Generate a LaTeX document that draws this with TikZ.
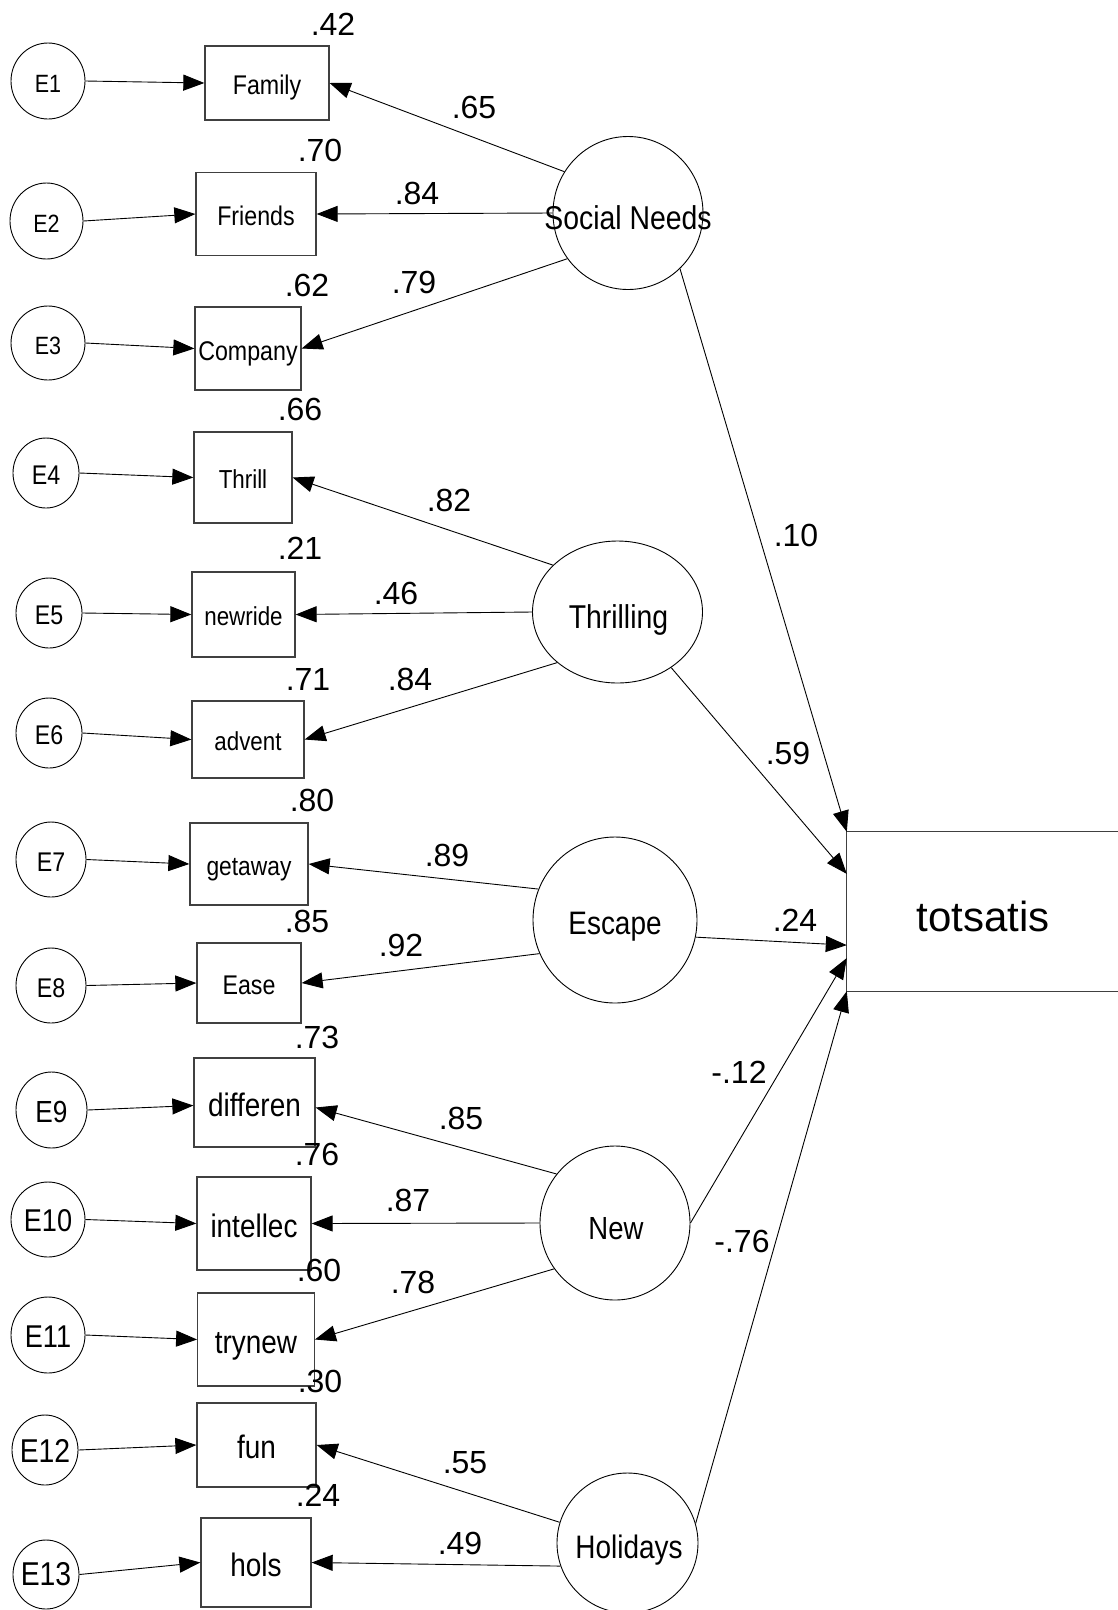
\documentclass[tikz,border=0pt]{standalone}
\usepackage{fontspec}
\setmainfont{Liberation Sans}
\newfontfamily\condf[FakeStretch=0.86]{Liberation Sans}
\usetikzlibrary{arrows.meta,shapes.geometric,calc}
\newcommand\fsz[1]{\fontsize{#1pt}{#1pt}\selectfont}
\tikzset{
  lab/.style={font={\fsz{#1}}, text height={0.716*#1pt}, text depth=0pt, inner sep=0pt},
  clab/.style={font={\condf\fsz{#1}}, text height={0.716*#1pt}, text depth=0pt, inner sep=0pt},
  blab/.style={font={\condf\fsz{#1}}, text height={0.716*#1pt+4pt}, text depth=0pt, inner sep=0pt},
  obs/.style={draw=black!75, line width=1.3pt, rectangle, inner sep=0pt},
  lat/.style={draw=black, line width=0.9pt, ellipse, inner sep=0pt},
  conn/.style={draw=black, line width=0.9pt, -{Triangle[length=21pt,width=16pt]}},
}
\begin{document}
\begin{tikzpicture}[x=1pt,y=-1pt]
\path[use as bounding box, fill=white] (0,0) rectangle (1118,1610);

% error terms
\node[lat, minimum width=74pt, minimum height=76pt] (e1) at (48,81) {};
\node[clab=25] at ($(e1)+(0,3)$) {E1};
\node[lat, minimum width=73pt, minimum height=76pt] (e2) at (46.5,221) {};
\node[clab=25] at ($(e2)+(0,3)$) {E2};
\node[lat, minimum width=74pt, minimum height=74pt] (e3) at (48,343) {};
\node[clab=25] at ($(e3)+(0,3)$) {E3};
\node[lat, minimum width=66pt, minimum height=70pt] (e4) at (46,473) {};
\node[clab=27] at ($(e4)+(0,2)$) {E4};
\node[lat, minimum width=66pt, minimum height=70pt] (e5) at (49,613) {};
\node[clab=27] at ($(e5)+(0,2)$) {E5};
\node[lat, minimum width=66pt, minimum height=70pt] (e6) at (49,733) {};
\node[clab=27] at ($(e6)+(0,2)$) {E6};
\node[lat, minimum width=70pt, minimum height=75pt] (e7) at (51,859.5) {};
\node[clab=27] at ($(e7)+(0,2)$) {E7};
\node[lat, minimum width=70pt, minimum height=75pt] (e8) at (51,985.5) {};
\node[clab=27] at ($(e8)+(0,2)$) {E8};
\node[lat, minimum width=71pt, minimum height=76pt] (e9) at (51.5,1110) {};
\node[clab=30.5] at ($(e9)+(0,2)$) {E9};
\node[lat, minimum width=74pt, minimum height=75pt] (e10) at (48,1219.5) {};
\node[clab=31.5] at ($(e10)+(0,1)$) {E10};
\node[lat, minimum width=74pt, minimum height=76pt] (e11) at (48,1335) {};
\node[clab=31.5] at ($(e11)+(0,1)$) {E11};
\node[lat, minimum width=66pt, minimum height=70pt] (e12) at (45,1450) {};
\node[clab=33] at ($(e12)+(0,1)$) {E12};
\node[lat, minimum width=66pt, minimum height=69pt] (e13) at (46,1574.5) {};
\node[clab=33] at (46,1573.5) {E13};

% observed variables
\node[obs, blab=27, minimum width=124pt, minimum height=74pt] (family) at (267,83) {Family};
\node[obs, blab=27, minimum width=120pt, minimum height=83pt] (friends) at (256,214) {Friends};
\node[obs, blab=27, minimum width=106pt, minimum height=83pt] (company) at (248,348.5) {Company};
\node[obs, blab=26, minimum width=98pt, minimum height=91pt] (thrill) at (243,477.5) {Thrill};
\node[obs, blab=26, minimum width=103pt, minimum height=85pt] (newride) at (243.5,614.5) {newride};
\node[obs, blab=26, minimum width=112pt, minimum height=77pt] (advent) at (248,739.5) {advent};
\node[obs, blab=26.5, minimum width=118pt, minimum height=82pt] (getaway) at (249,864) {getaway};
\node[obs, blab=27, minimum width=104pt, minimum height=80pt] (ease) at (249,983) {Ease};
\node[obs, blab=32.5, minimum width=121pt, minimum height=89pt] (differen) at (254.5,1102.5) {differen};
\node[obs, blab=32.5, minimum width=114pt, minimum height=93pt] (intellec) at (254,1223.5) {intellec};
\node[obs, blab=32.5, minimum width=116.5pt, minimum height=93pt] (trynew) at (256,1339.5) {trynew};
\node[obs, blab=32.5, minimum width=119pt, minimum height=84pt] (fun) at (256.5,1445) {fun};
\node[obs, blab=32.5, minimum width=110pt, minimum height=89pt] (hols) at (256,1562.5) {hols};

% latent variables
\node[lat, minimum width=150pt, minimum height=153pt] (sn) at (628,213) {};
\node[clab=33] at (628,217.5) {Social Needs};
\node[lat, minimum width=170pt, minimum height=142pt] (thr) at (617.5,612) {};
\node[clab=33] at (618.5,617) {Thrilling};
\node[lat, minimum width=164pt, minimum height=166pt] (esc) at (615,920) {};
\node[clab=32.5] at (615,923) {Escape};
\node[lat, minimum width=150pt, minimum height=154pt] (new) at (615,1223) {};
\node[clab=32] at (616,1228) {New};
\node[lat, minimum width=141pt, minimum height=140pt] (hol) at (627.5,1543) {};
\node[clab=32.5] at (629,1546.5) {Holidays};

% outcome
\node[inner sep=0pt, minimum width=271pt, minimum height=159pt] (tot) at (982.5,911.5) {};
\draw[draw=black!75, line width=1.3pt] (tot.north east) -- (tot.north west) -- (tot.south west) -- (tot.south east);
\node[lab=42] at (983,916.5) {totsatis};

% error arrows
\draw[conn] (e1.east) -- (family.west);
\draw[conn] (e2.east) -- (friends.west);
\draw[conn] (e3.east) -- (company.west);
\draw[conn] (e4.east) -- (thrill.west);
\draw[conn] (e5.east) -- (newride.west);
\draw[conn] (e6.east) -- (advent.west);
\draw[conn] (e7.east) -- (getaway.west);
\draw[conn] (e8.east) -- (ease.west);
\draw[conn] (e9.east) -- ($(differen.west)+(0,3)$);
\draw[conn] (e10.east) -- (intellec.west);
\draw[conn] (e11.east) -- (trynew.west);
\draw[conn] (e12.east) -- (fun.west);
\draw[conn] (e13.east) -- (hols.west);

% loadings
\draw[conn] (sn.147) -- (family.east);
\draw[conn] (sn.west) -- (friends.east);
\draw[conn] (sn.217) -- (company.east);
\draw[conn] (thr.144) -- (thrill.east);
\draw[conn] (thr.west) -- (newride.east);
\draw[conn] (thr.220) -- (advent.east);
\draw[conn] (esc.158) -- (getaway.east);
\draw[conn] (esc.204) -- (ease.east);
\draw[conn] (new.140) -- ($(differen.east)+(0,5)$);
\draw[conn] (new.west) -- (intellec.east);
\draw[conn] (new.217) -- (trynew.east);
\draw[conn] (hol.163) -- (fun.east);
\draw[conn] (hol.199) -- (hols.east);

% structural paths
\draw[conn] (sn.313) -- (tot.north west);
\draw[conn] (thr.314) -- ($(tot.north west)!0.264!(tot.south west)$);
\draw[conn] (esc.348) -- ($(tot.north west)!0.711!(tot.south west)$);
\draw[conn] (new.east) -- ($(tot.north west)!0.792!(tot.south west)$);
\draw[conn] (hol.16) -- (tot.south west);

% numbers
\begin{scope}[every node/.style={lab=32}]
\node at (333,24) {.42};
\node at (474,107) {.65};
\node at (320,150) {.70};
\node at (417,193) {.84};
\node at (307,285) {.62};
\node at (414,282) {.79};
\node at (300,409) {.66};
\node at (449,500) {.82};
\node at (300,548) {.21};
\node at (396,593) {.46};
\node at (308,679) {.71};
\node at (410,679) {.84};
\node at (312,800) {.80};
\node at (447,855) {.89};
\node at (307,921) {.85};
\node at (401,945) {.92};
\node at (317,1037) {.73};
\node at (461,1118) {.85};
\node at (317,1154) {.76};
\node at (408,1200) {.87};
\node at (319,1270) {.60};
\node at (413,1282) {.78};
\node at (320,1381) {.30};
\node at (465,1462) {.55};
\node at (318,1495) {.24};
\node at (460,1543) {.49};
\node at (796,535) {.10};
\node at (788,753) {.59};
\node at (795,920) {.24};
\node at (739,1072) {-.12};
\node at (742,1241) {-.76};
\end{scope}
\end{tikzpicture}
\end{document}
